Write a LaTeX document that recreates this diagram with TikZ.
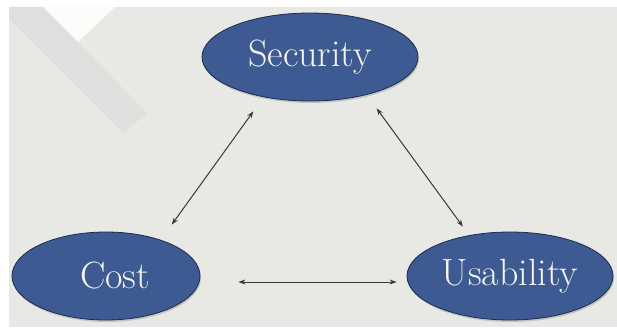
\documentclass[tikz,border=0pt]{standalone}
\usepackage{fontspec}
\usetikzlibrary{arrows.meta,shapes.geometric,shadows}
\definecolor{panel}{HTML}{E8E8E4}
\definecolor{band}{HTML}{DFDFDE}
\definecolor{notch}{HTML}{FBFBFA}
\definecolor{oval}{HTML}{3D5B92}
\definecolor{ovalrim}{HTML}{1C2C4C}
\definecolor{ovaltext}{HTML}{F4F4EC}
\definecolor{link}{HTML}{383838}
\begin{document}
\begin{tikzpicture}[x=1pt,y=1pt,
  goal/.style={ellipse,draw=ovalrim,line width=0.8pt,fill=oval,text=ovaltext,
    inner sep=0pt,minimum height=88pt,
    font=\fontsize{38}{44}\selectfont,
    drop shadow={opacity=0.35,shadow xshift=1pt,shadow yshift=-2pt}},
  arrow/.style={draw=link,line width=1pt,
    {Stealth[length=7pt,width=5pt]}-{Stealth[length=7pt,width=5pt]}}]
\useasboundingbox (0,0) rectangle (617,327);
\fill[white] (0,0) rectangle (617,327);
\fill[panel] (9,0) rectangle (617,320);
\fill[band] (9,320) -- (43,320) -- (147,214) -- (123,194) -- (9,308) -- cycle;
\fill[notch] (43,320) -- (78,285) -- (115,320) -- cycle;
\node[goal,minimum width=216pt] at (310,270) (security) {Security};
\node[goal,minimum width=188pt] at (106,51) (cost) {\hspace*{18pt}Cost};
\node[goal,minimum width=206pt] at (510,51) (usability) {Usability};
\draw[arrow] ([shift={(-1,20)}]cost.north east) to ([shift={(20,-23)}]security.south west);
\draw[arrow] ([shift={(-10,-20)}]security.south east) to ([shift={(26,18)}]usability.north west);
\draw[arrow] ([shift={(38,-6)}]cost.east) to ([shift={(-10,-6)}]usability.west);
\end{tikzpicture}
\end{document}
